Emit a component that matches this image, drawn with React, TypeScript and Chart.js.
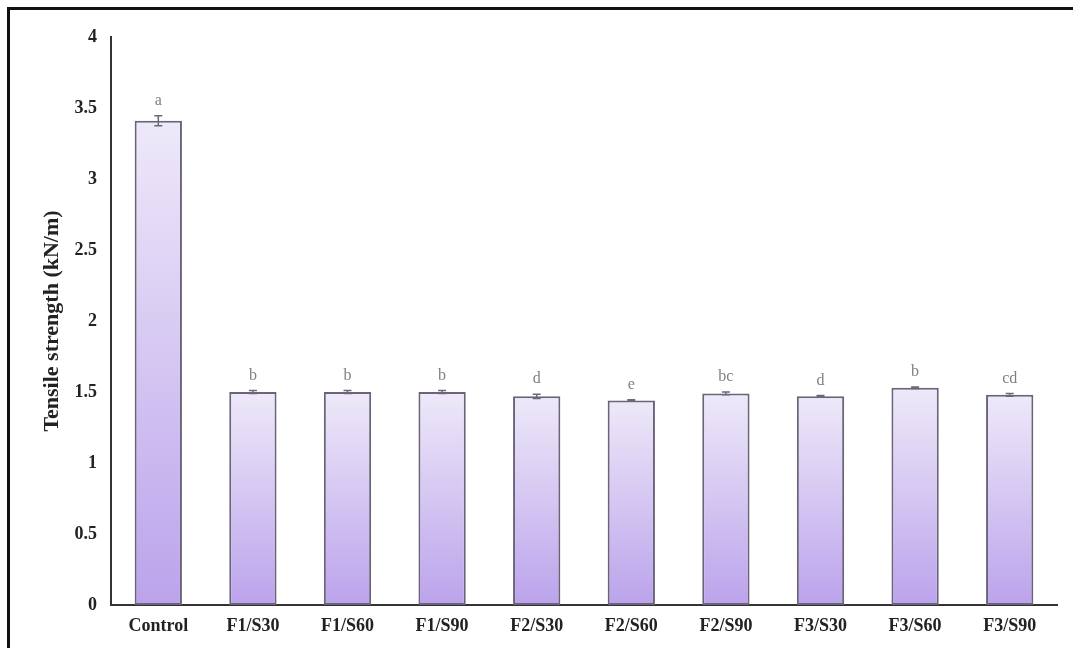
import React, { useEffect, useRef } from "react";
import { Chart, registerables } from "chart.js";

Chart.register(...registerables);

const categories = ["Control", "F1/S30", "F1/S60", "F1/S90", "F2/S30", "F2/S60", "F2/S90", "F3/S30", "F3/S60", "F3/S90"];
const tensileValues = [3.41, 1.50, 1.50, 1.50, 1.47, 1.44, 1.49, 1.47, 1.53, 1.48];
const errorValues = [0.035, 0.01, 0.01, 0.01, 0.015, 0.005, 0.01, 0.005, 0.005, 0.01];
const groupLetters = ["a", "b", "b", "b", "d", "e", "bc", "d", "b", "cd"];
const yTickValues = [0, 0.5, 1, 1.5, 2, 2.5, 3, 3.5, 4];
const yTitle = "Tensile strength (kN/m)";

const FONT = "'Liberation Serif', 'Times New Roman', serif";

export default function App() {
  const ref = useRef<HTMLCanvasElement>(null);

  useEffect(() => {
    const canvas = ref.current;
    if (!canvas) return;

    const framePlugin = {
      id: "frame",
      beforeDraw(chart: any) {
        const c = chart.ctx;
        c.save();
        c.fillStyle = "#ffffff";
        c.fillRect(0, 0, chart.width, chart.height);
        c.restore();
      },
      afterDraw(chart: any) {
        const c = chart.ctx;
        c.save();
        c.fillStyle = "#111111";
        c.fillRect(7, 7, chart.width - 7, 3);
        c.fillRect(7, 7, 3, chart.height - 7);
        c.restore();
      },
    };

    const errorPlugin = {
      id: "errorBars",
      afterDatasetsDraw(chart: any) {
        const c = chart.ctx;
        const ys = chart.scales.y;
        const meta = chart.getDatasetMeta(0);
        c.save();
        meta.data.forEach((bar: any, i: number) => {
          const x = bar.x;
          const v = tensileValues[i];
          const e = errorValues[i];
          const yTop = ys.getPixelForValue(v + e);
          const yBot = ys.getPixelForValue(v - e);
          c.strokeStyle = "#6d6878";
          c.lineWidth = 1.5;
          c.beginPath();
          c.moveTo(x, yTop);
          c.lineTo(x, yBot);
          c.moveTo(x - 4, yTop);
          c.lineTo(x + 4, yTop);
          c.moveTo(x - 4, yBot);
          c.lineTo(x + 4, yBot);
          c.stroke();
          c.fillStyle = "#808080";
          c.font = `16px ${FONT}`;
          c.textAlign = "center";
          c.textBaseline = "middle";
          c.fillText(groupLetters[i], x, yTop - 15);
        });
        c.restore();
      },
    };

    const chart = new Chart(canvas, {
      type: "bar",
      data: {
        labels: categories,
        datasets: [
          {
            data: tensileValues,
            backgroundColor: (ctx: any) => {
              const ch = ctx.chart;
              const ys = ch.scales && ch.scales.y;
              if (!ys || ctx.type !== "data") return "#d8ccf2";
              const top = ys.getPixelForValue(ctx.raw);
              const bottom = ys.getPixelForValue(0);
              if (!isFinite(top) || !isFinite(bottom) || top === bottom) return "#d8ccf2";
              const g = ch.ctx.createLinearGradient(0, top, 0, bottom);
              g.addColorStop(0, "#eee9f9");
              g.addColorStop(1, "#bba3eb");
              return g;
            },
            borderColor: "#6a6379",
            borderWidth: 2,
            borderSkipped: false,
            barPercentage: 0.5,
            categoryPercentage: 1,
          },
        ],
      },
      options: {
        responsive: false,
        animation: false,
        devicePixelRatio: 1,
        layout: { padding: { top: 37, right: 16, bottom: 0, left: 0 } },
        plugins: {
          legend: { display: false },
          tooltip: { enabled: false },
        },
        scales: {
          x: {
            grid: { display: false, drawTicks: false },
            border: { color: "#333333", width: 2 },
            ticks: {
              color: "#222222",
              padding: 11,
              font: { family: FONT, size: 18, weight: "bold" },
              maxRotation: 0,
            },
            afterFit(scale: any) {
              scale.height = 43;
            },
          },
          y: {
            min: 0,
            max: 4,
            grid: { display: false, drawTicks: false },
            border: { color: "#333333", width: 2 },
            afterBuildTicks(scale: any) {
              scale.ticks = yTickValues.map((v) => ({ value: v }));
            },
            ticks: {
              color: "#222222",
              padding: 14,
              font: { family: FONT, size: 18, weight: "bold" },
              callback: (v: any) => String(v),
            },
            title: {
              display: true,
              text: yTitle,
              color: "#222222",
              font: { family: FONT, size: 22, weight: "bold" },
              padding: { top: 39, bottom: 0 },
            },
            afterFit(scale: any) {
              scale.width = 111;
            },
          },
        },
      },
      plugins: [framePlugin, errorPlugin],
    } as any);

    return () => chart.destroy();
  }, []);

  return (
    <div style={{ position: "fixed", left: 0, top: 0, width: 1073, height: 648 }}>
      <canvas ref={ref} width={1073} height={648} style={{ display: "block", width: 1073, height: 648 }} />
    </div>
  );
}
